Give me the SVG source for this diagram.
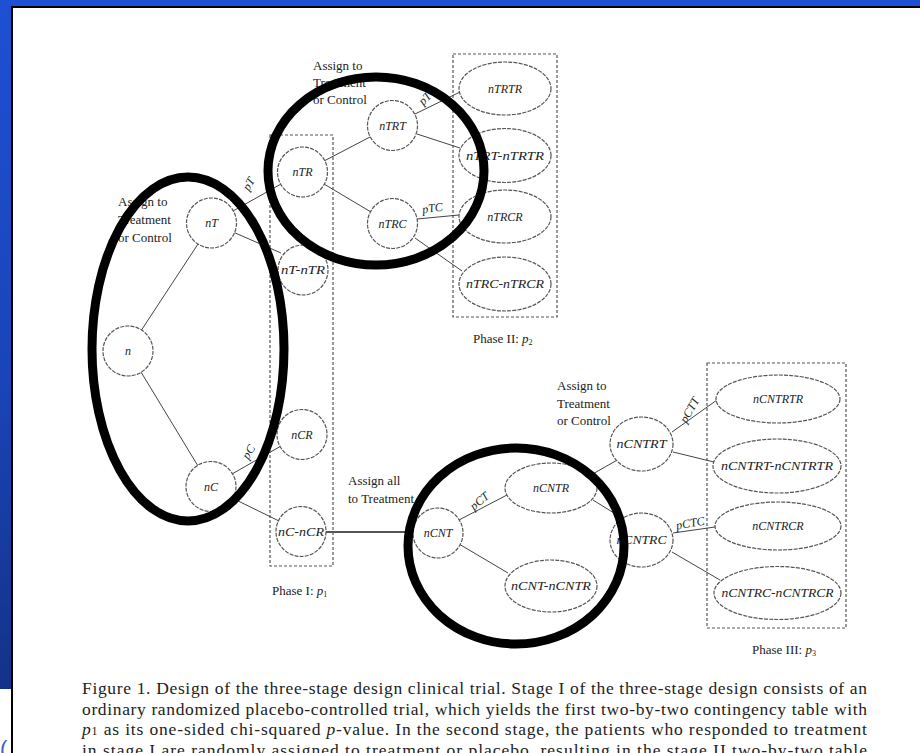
<svg xmlns="http://www.w3.org/2000/svg" width="920" height="753" viewBox="0 0 920 753">
<defs>
<linearGradient id="bg" x1="0" y1="0" x2="0" y2="1">
<stop offset="0" stop-color="#1e50d4"/>
<stop offset="0.5" stop-color="#1a45b8"/>
<stop offset="1" stop-color="#122e7e"/>
</linearGradient>
<style>
.nd{fill:#fff;stroke:#555;stroke-width:1.2;stroke-dasharray:4 1.2}
.lb{font-family:"Liberation Serif",serif;font-style:italic;font-size:12px;fill:#222;text-anchor:middle}
.tx{font-family:"Liberation Serif",serif;font-size:13px;fill:#222}
.el{font-family:"Liberation Serif",serif;font-style:italic;font-size:12px;fill:#222;text-anchor:middle}
.cn line{stroke:#444;stroke-width:1}
.box{fill:none;stroke:#555;stroke-width:1.2;stroke-dasharray:3 2}
.big{fill:none;stroke:#000;stroke-width:9}
.cap{font-family:"Liberation Serif",serif;font-size:17.5px;fill:#222}
</style>
</defs>
<rect x="0" y="0" width="920" height="753" fill="url(#bg)"/>
<rect x="0" y="689" width="12" height="64" fill="#fff"/>
<rect x="12" y="7" width="908" height="746" fill="#fff"/>
<line x1="12" y1="6" x2="12" y2="753" stroke="#000" stroke-width="2"/>
<line x1="11" y1="7" x2="920" y2="7" stroke="#000" stroke-width="2"/>
<text x="0" y="756" font-family="Liberation Sans,sans-serif" font-size="22" fill="#3a62c0">(</text>

<g id="phase-boxes">
<rect class="box" x="270" y="135" width="63" height="431"/>
<rect class="box" x="453" y="54" width="104" height="263"/>
<rect class="box" x="707" y="363" width="139" height="265"/>
</g>

<g id="connectors" class="cn">
<line x1="141.5" y1="330" x2="198" y2="244"/>
<line x1="141" y1="372" x2="198" y2="466"/>
<line x1="233" y1="211" x2="281" y2="184"/>
<line x1="233" y1="232" x2="281" y2="253"/>
<line x1="324" y1="161" x2="370" y2="137"/>
<line x1="324" y1="184" x2="371" y2="212"/>
<line x1="415" y1="114" x2="460" y2="92"/>
<line x1="417" y1="134" x2="460" y2="148"/>
<line x1="417" y1="219" x2="459" y2="215"/>
<line x1="415" y1="238" x2="462" y2="271"/>
<line x1="232" y1="474" x2="281" y2="446"/>
<line x1="232" y1="498" x2="279" y2="521"/>
<line x1="326" y1="532" x2="413" y2="532" style="stroke:#555;stroke-width:1.8"/>
<line x1="459" y1="520" x2="507" y2="495"/>
<line x1="459" y1="544" x2="508" y2="573"/>
<line x1="591" y1="475" x2="619" y2="459"/>
<line x1="593" y1="500" x2="622" y2="518"/>
<line x1="672" y1="432" x2="717" y2="400"/>
<line x1="673" y1="452" x2="714" y2="462"/>
<line x1="673" y1="533" x2="715" y2="527"/>
<line x1="672" y1="552" x2="720" y2="580"/>
</g>

<g id="edge-labels">
<text class="el" transform="translate(252,186) rotate(-58)">pT</text>
<text class="el" transform="translate(430,99) rotate(-45)">pTT</text>
<text class="el" transform="translate(433,212) rotate(-8)">pTC</text>
<text class="el" transform="translate(252,454) rotate(-58)">pC</text>
<text class="el" transform="translate(482,504) rotate(-40)">pCT</text>
<text class="el" transform="translate(693,412) rotate(-60)">pCTT</text>
<text class="el" transform="translate(691,527) rotate(-10)">pCTC</text>
</g>

<g id="n"><circle class="nd" cx="128" cy="351" r="25"/><text class="lb" x="128" y="355">n</text></g>
<g id="nT"><circle class="nd" cx="211.5" cy="223" r="25"/><text class="lb" x="211.5" y="227">nT</text></g>
<g id="nC"><circle class="nd" cx="211" cy="486.5" r="25"/><text class="lb" x="211" y="490.5">nC</text></g>
<g id="nTR"><circle class="nd" cx="302.5" cy="172" r="25"/><text class="lb" x="302.5" y="176">nTR</text></g>
<g id="nT-nTR"><circle class="nd" cx="303" cy="270" r="25"/><text class="lb" x="303" y="274" textLength="44" lengthAdjust="spacingAndGlyphs">nT-nTR</text></g>
<g id="nCR"><circle class="nd" cx="302" cy="434.5" r="25"/><text class="lb" x="302" y="438.5">nCR</text></g>
<g id="nC-nCR"><circle class="nd" cx="301" cy="531.5" r="25"/><text class="lb" x="301" y="535.5" textLength="46" lengthAdjust="spacingAndGlyphs">nC-nCR</text></g>
<g id="nTRT"><circle class="nd" cx="392.5" cy="125.5" r="25"/><text class="lb" x="392.5" y="129.5">nTRT</text></g>
<g id="nTRC"><circle class="nd" cx="392.5" cy="223.5" r="25"/><text class="lb" x="392.5" y="227.5">nTRC</text></g>
<g id="nTRTR"><ellipse class="nd" cx="505" cy="88.5" rx="46" ry="26.5"/><text class="lb" x="505" y="92.5">nTRTR</text></g>
<g id="nTRT-nTRTR"><ellipse class="nd" cx="505" cy="155.5" rx="46" ry="27"/><text class="lb" x="505" y="159.5" textLength="78" lengthAdjust="spacingAndGlyphs">nTRT-nTRTR</text></g>
<g id="nTRCR"><ellipse class="nd" cx="505" cy="216.5" rx="46" ry="26.5"/><text class="lb" x="505" y="220.5">nTRCR</text></g>
<g id="nTRC-nTRCR"><ellipse class="nd" cx="505" cy="284" rx="46" ry="27"/><text class="lb" x="505" y="288" textLength="78" lengthAdjust="spacingAndGlyphs">nTRC-nTRCR</text></g>
<g id="nCNT"><circle class="nd" cx="438" cy="533" r="25"/><text class="lb" x="438" y="537">nCNT</text></g>
<g id="nCNTR"><ellipse class="nd" cx="551" cy="488" rx="46" ry="25"/><text class="lb" x="551" y="492">nCNTR</text></g>
<g id="nCNT-nCNTR"><ellipse class="nd" cx="551" cy="586" rx="46" ry="26"/><text class="lb" x="551" y="590" textLength="80" lengthAdjust="spacingAndGlyphs">nCNT-nCNTR</text></g>
<g id="nCNTRT"><ellipse class="nd" cx="641.5" cy="444" rx="31.5" ry="27"/><text class="lb" x="641.5" y="448" textLength="50" lengthAdjust="spacingAndGlyphs">nCNTRT</text></g>
<g id="nCNTRC"><ellipse class="nd" cx="641.5" cy="540" rx="31.5" ry="27"/><text class="lb" x="641.5" y="544" textLength="50" lengthAdjust="spacingAndGlyphs">nCNTRC</text></g>
<g id="nCNTRTR"><ellipse class="nd" cx="778" cy="399" rx="62" ry="24"/><text class="lb" x="778" y="403">nCNTRTR</text></g>
<g id="nCNTRT-nCNTRTR"><ellipse class="nd" cx="777" cy="466" rx="64" ry="27"/><text class="lb" x="777" y="470" textLength="112" lengthAdjust="spacingAndGlyphs">nCNTRT-nCNTRTR</text></g>
<g id="nCNTRCR"><ellipse class="nd" cx="778" cy="526" rx="63" ry="24"/><text class="lb" x="778" y="530">nCNTRCR</text></g>
<g id="nCNTRC-nCNTRCR"><ellipse class="nd" cx="777.5" cy="593" rx="63.5" ry="26.5"/><text class="lb" x="777.5" y="597" textLength="112" lengthAdjust="spacingAndGlyphs">nCNTRC-nCNTRCR</text></g>

<g id="annotations">
<text class="tx" x="118" y="206">Assign to</text>
<text class="tx" x="118" y="224">Treatment</text>
<text class="tx" x="118" y="242">or Control</text>
<text class="tx" x="313" y="70">Assign to</text>
<text class="tx" x="313" y="87">Treatment</text>
<text class="tx" x="313" y="104">or Control</text>
<text class="tx" x="557" y="390">Assign to</text>
<text class="tx" x="557" y="408">Treatment</text>
<text class="tx" x="557" y="425">or Control</text>
<text class="tx" x="348" y="485">Assign all</text>
<text class="tx" x="348" y="503">to Treatment</text>
<text class="tx" x="272" y="595" font-size="11.5">Phase I: <tspan font-style="italic">p</tspan><tspan font-size="8" dy="2">1</tspan></text>
<text class="tx" x="473" y="343" font-size="11.5">Phase II: <tspan font-style="italic">p</tspan><tspan font-size="8" dy="2">2</tspan></text>
<text class="tx" x="752" y="654" font-size="11.5">Phase III: <tspan font-style="italic">p</tspan><tspan font-size="8" dy="2">3</tspan></text>
</g>

<g id="caption">
<text class="cap" x="82" y="694" textLength="785" lengthAdjust="spacing">Figure 1. Design of the three-stage design clinical trial. Stage I of the three-stage design consists of an</text>
<text class="cap" x="82" y="715" textLength="785" lengthAdjust="spacing">ordinary randomized placebo-controlled trial, which yields the first two-by-two contingency table with</text>
<text class="cap" x="82" y="735" textLength="785" lengthAdjust="spacing"><tspan font-style="italic">p</tspan><tspan font-size="12">1</tspan> as its one-sided chi-squared <tspan font-style="italic">p</tspan>-value. In the second stage, the patients who responded to treatment</text>
<text class="cap" x="82" y="756" textLength="785" lengthAdjust="spacing">in stage I are randomly assigned to treatment or placebo, resulting in the stage II two-by-two table</text>
</g>

<g id="highlights">
<ellipse class="big" cx="188" cy="349" rx="96" ry="172"/>
<ellipse class="big" cx="376" cy="171" rx="108" ry="94"/>
<ellipse class="big" cx="516" cy="546" rx="108" ry="98"/>
</g>
</svg>
